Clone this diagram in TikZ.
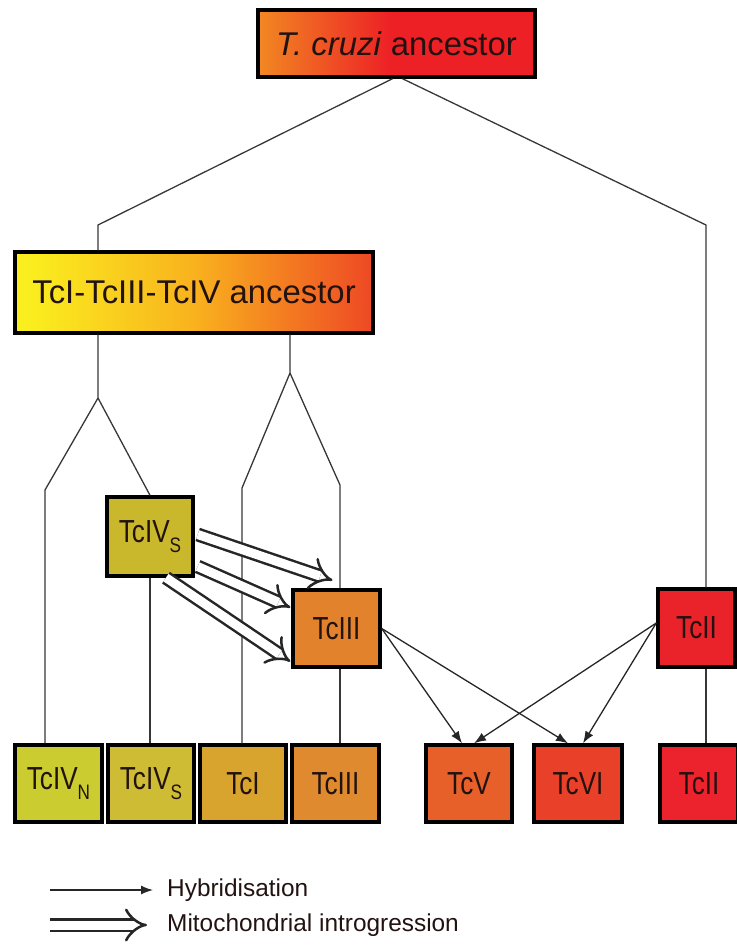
\documentclass[tikz,border=0pt]{standalone}
\usepackage{fontspec}
\usepackage{graphicx}
\setmainfont{Liberation Sans}
\usetikzlibrary{arrows.meta}

% lineage colours
\definecolor{cOrange}{RGB}{242,136,34}
\definecolor{cRed}{RGB}{237,32,38}
\definecolor{cYellow}{RGB}{250,238,30}
\definecolor{cAmber}{RGB}{249,178,30}
\definecolor{cRedOr}{RGB}{238,72,36}
\definecolor{cIVSm}{RGB}{202,184,44}
\definecolor{cIIIm}{RGB}{226,130,44}
\definecolor{cIIm}{RGB}{234,34,42}
\definecolor{bIVNc}{RGB}{203,204,48}
\definecolor{bIVSc}{RGB}{206,188,52}
\definecolor{bIc}{RGB}{216,164,46}
\definecolor{bIIIc}{RGB}{223,138,46}
\definecolor{bVc}{RGB}{231,96,42}
\definecolor{bVIc}{RGB}{233,64,42}
\definecolor{bIIc}{RGB}{236,34,44}
\definecolor{treeline}{RGB}{55,55,55}
\definecolor{labeltext}{RGB}{34,18,16}

% the path is fitted to the 25bp..75bp band of a horizontal shading
\pgfdeclarehorizontalshading{rootshade}{100bp}{color(0bp)=(cOrange); color(25bp)=(cOrange); color(49bp)=(cRed); color(75bp)=(cRed); color(100bp)=(cRed)}
\pgfdeclarehorizontalshading{ancshade}{100bp}{color(0bp)=(cYellow); color(27bp)=(cYellow); color(50bp)=(cAmber); color(75bp)=(cRedOr); color(100bp)=(cRedOr)}

\newcommand{\narrowtxt}[1]{\scalebox{0.82}[1]{#1}}
\newcommand{\subS}[1]{\raisebox{-0.32em}{\fontsize{21}{21}\selectfont #1}}

\tikzset{
  box/.style={draw=black, line width=3.4bp, inner sep=0pt, text=labeltext},
  bigbox/.style={box, font=\fontsize{33}{36}\selectfont},
  smallbox/.style={box, minimum height=77bp, font=\fontsize{32}{34}\selectfont},
  tree/.style={draw=treeline, line width=1.3bp},
  hyb/.style={draw=black!85, line width=1.3bp, -{Latex[length=12bp,width=9bp]}},
  intro/.style={draw=black!85, double, double distance=9bp, line width=2.5bp, -{Implies}},
  legendtext/.style={inner sep=0pt, anchor=west, font=\fontsize{24.5}{26}\selectfont, text=labeltext}
}

\begin{document}
\begin{tikzpicture}[x=1bp, y=-1bp]
\useasboundingbox (0,0) rectangle (737,951);

% ancestral nodes
\node[bigbox, shading=rootshade, minimum width=277bp, minimum height=67bp] (root) at (396.5,43.5) {\textit{T. cruzi} ancestor};
\node[bigbox, shading=ancshade, minimum width=358bp, minimum height=81bp] (anc) at (194,292.5) {TcI-TcIII-TcIV ancestor};

% intermediate lineages
\node[smallbox, fill=cIVSm, minimum width=86bp, minimum height=79bp] (mIVS) at (150,536.5) {\narrowtxt{TcIV\subS{S}}};
\node[smallbox, fill=cIIIm, minimum width=87bp] (mIII) at (336.5,628.5) {\narrowtxt{TcIII}};
\node[smallbox, fill=cIIm, minimum width=77bp, minimum height=78bp] (mII) at (696.5,628) {\narrowtxt{TcII}};

% extant lineages
\node[smallbox, fill=bIVNc, minimum width=87bp] (bIVN) at (58.5,783.5) {\narrowtxt{TcIV\subS{N}}};
\node[smallbox, fill=bIVSc, minimum width=86bp] (bIVS) at (151,783.5) {\narrowtxt{TcIV\subS{S}}};
\node[smallbox, fill=bIc, minimum width=86bp] (bI) at (243,783.5) {\narrowtxt{TcI}};
\node[smallbox, fill=bIIIc, minimum width=87bp] (bIII) at (335.5,783.5) {\narrowtxt{TcIII}};
\node[smallbox, fill=bVc, minimum width=86bp] (bV) at (469,783.5) {\narrowtxt{TcV}};
\node[smallbox, fill=bVIc, minimum width=88bp] (bVI) at (578,783.5) {\narrowtxt{TcVI}};
\node[smallbox, fill=bIIc, minimum width=78bp] (bII) at (699,783.5) {\narrowtxt{TcII}};

% branch corners
\coordinate (tl) at (98,225);
\coordinate (tr) at (706,225);
\coordinate (a1) at (98,398);
\coordinate (l1) at (45,490);
\coordinate (a2) at (290,373);
\coordinate (r1) at (242,488);
\coordinate (r2) at (340,485);

% tree
\draw[tree] ([xshift=-4bp]root.south) -- (tl) -- (anc.north -| tl);
\draw[tree] ([xshift=6bp]root.south) -- (tr) -- (mII.north -| tr);
\draw[tree] (mII.south -| tr) -- (bII.north -| tr);
\draw[tree] (anc.south -| a1) -- (a1) -- (l1) -- (bIVN.north -| l1);
\draw[tree] (a1) -- (mIVS.north);
\draw[tree] (mIVS.south) -- (mIVS.south |- bIVS.north);
\draw[tree] (anc.south -| a2) -- (a2) -- (r1) -- (bI.north -| r1);
\draw[tree] (a2) -- (r2) -- (mIII.north -| r2);
\draw[tree] (mIII.south -| r2) -- (bIII.north -| r2);

% hybridisation events
\draw[hyb] (mIII.east) -- ([xshift=-7bp]bV.north);
\draw[hyb] (mIII.east) -- ([xshift=-10bp]bVI.north);
\draw[hyb] ([yshift=5bp]mII.west) -- ([xshift=5bp]bV.north);
\draw[hyb] ([yshift=5bp]mII.west) -- ([xshift=5bp]bVI.north);

% mitochondrial introgression
\draw[intro] ([shift={(3,-2)}]mIVS.east) -- ([shift={(-4,-8)}]mIII.north);
\draw[intro] ([shift={(3,30)}]mIVS.east) -- ([shift={(-1,-21)}]mIII.west);
\draw[intro] ([xshift=16bp]mIVS.south) -- ([shift={(-1,33)}]mIII.west);

% legend
\coordinate (h0) at (50,890);
\coordinate (m0) at (50,925);
\node[legendtext] (hybtxt) at (167,890) {Hybridisation};
\node[legendtext] (mittxt) at (167,925) {Mitochondrial introgression};
\draw[hyb] (h0) -- ([xshift=-14bp]hybtxt.west);
\draw[intro] (m0) -- ([xshift=-20bp]mittxt.west);
\end{tikzpicture}
\end{document}
